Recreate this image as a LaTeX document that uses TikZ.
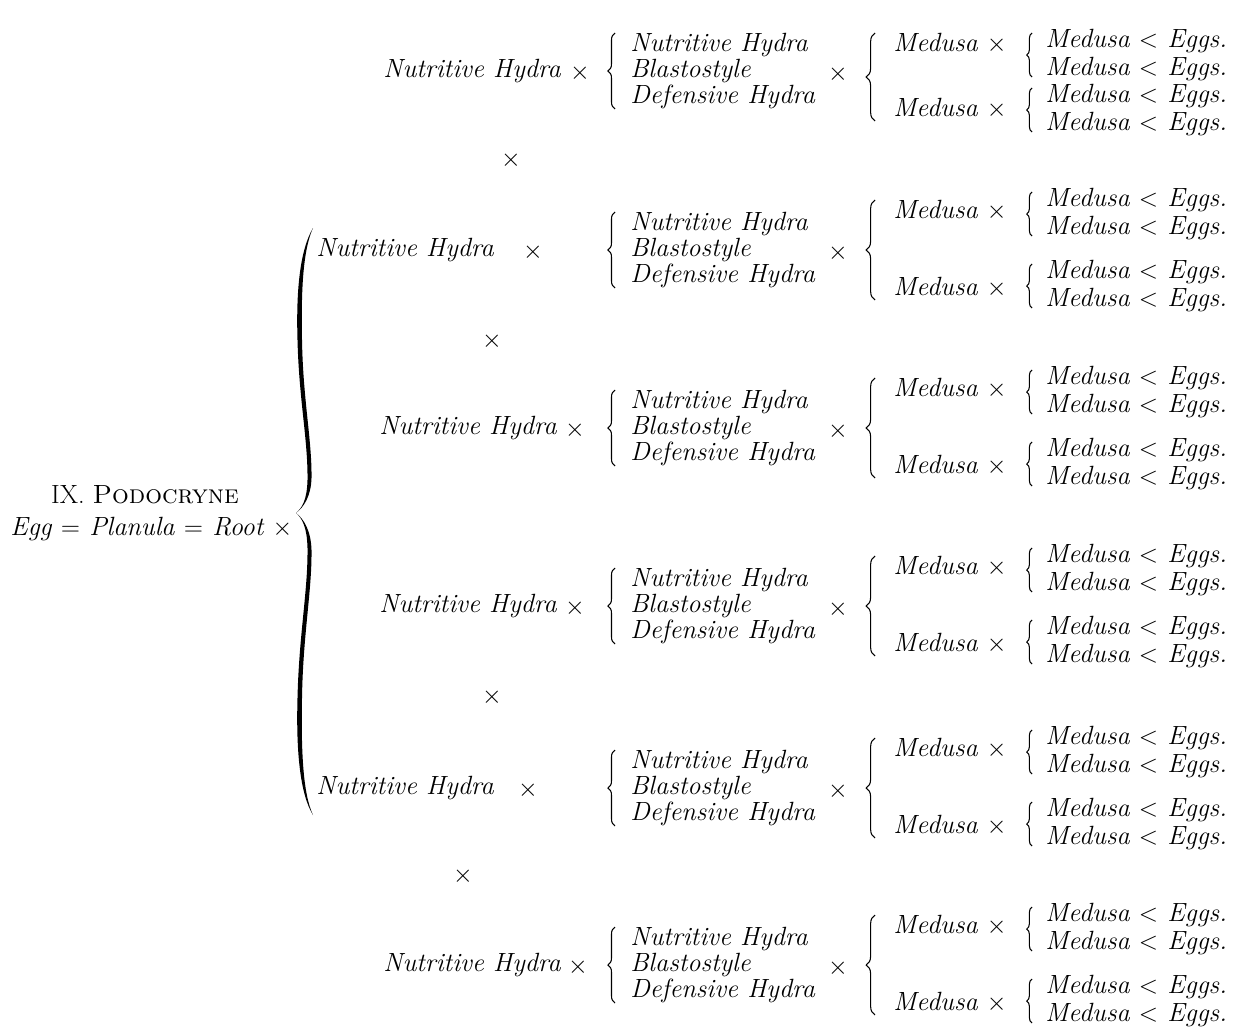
\documentclass[tikz,border=0pt]{standalone}
\usepackage{tikz}
\usetikzlibrary{decorations.pathreplacing}

\begin{document}
\begin{tikzpicture}[x=0.02cm, y=-0.02cm,
        txt/.style={anchor=west, inner sep=0pt, font=\fontsize{15}{15}\selectfont\itshape, text height=10pt, text depth=3pt},
        lst/.style={anchor=west, inner sep=0pt, align=left, font=\fontsize{15}{14.7}\selectfont\itshape},
        cross/.style={inner sep=0pt, font=\fontsize{15}{15}\selectfont},
        brc/.style={decorate, decoration={brace, amplitude=#1}, line width=0.6pt},
        brc/.default=4pt]
        \useasboundingbox (0,0) rectangle (1246,1031);
        % root of the tree
        \node[cross] (title) at (145,495) {IX. \textsc{Podocryne}};
        \node[txt] (root) at (10,529) {Egg $=$ Planula $=$ Root $\times$};
        % the big brace, two tapered halves
        \fill (313,228) .. controls (300,250) and (296,290) .. (297.5,340) .. controls (299,400) and (308,440) .. (307.5,480)
          .. controls (307,500) and (302,508) .. (296,513) .. controls (304,507) and (311,496) .. (311.5,478)
          .. controls (312,440) and (303,400) .. (302,340) .. controls (301,290) and (303,250) .. (313,228) -- cycle;
        \fill (313,815) .. controls (300,794) and (296,751) .. (297.5,698) .. controls (299,634) and (308,591) .. (307.5,548)
          .. controls (307,527) and (302,518) .. (296,513) .. controls (304,519) and (311,531) .. (311.5,550)
          .. controls (312,591) and (303,634) .. (302,698) .. controls (301,751) and (303,794) .. (313,815) -- cycle;
        % one row per hydra (\m, \t, \b: the first row sits closer to the top)
        \foreach \i/\y/\nx/\cx/\m/\t/\b in {1/71/383/580/12/20/3, 2/250/316/533/0/0/0, 3/428/379/575/0/0/0,
                                            4/606/379/575/0/0/0, 5/788/316/528/0/0/0, 6/965/383/578/0/0/0} {
          \node[txt] (nh\i) at (\nx,\y) {Nutritive Hydra};
          \node[cross] (nx\i) at (\cx,\y+2) {$\times$};
          \draw[brc] (615,\y+38) -- (615,\y-38);
          \node[lst] (ls\i) at (630,\y) {Nutritive Hydra\\Blastostyle\\Defensive Hydra};
          \node[cross] (mx\i) at (838,\y+3) {$\times$};
          \draw[brc=5pt] (875,\y+50) -- (875,\y-50+\m);
          \node[txt] (ma\i) at (893,\y-38+\m) {Medusa $\times$};
          \node[txt] (mb\i) at (893,\y+39) {Medusa $\times$};
          \draw[brc=3pt] (1032,\y-14+\t) -- (1032,\y-58+\t);
          \draw[brc=3pt] (1032,\y+58+\b) -- (1032,\y+14+\b);
          \node[txt] (ea\i) at (1045,\y-50+\t) {Medusa $<$ Eggs.};
          \node[txt] (eb\i) at (1045,\y-22+\t) {Medusa $<$ Eggs.};
          \node[txt] (ec\i) at (1045,\y+22+\b) {Medusa $<$ Eggs.};
          \node[txt] (ed\i) at (1045,\y+50+\b) {Medusa $<$ Eggs.};
        }
        % crosses between the rows
        \node[cross] (k1) at (511,160) {$\times$};
        \node[cross] (k2) at (492,341) {$\times$};
        \node[cross] (k3) at (492,697) {$\times$};
        \node[cross] (k4) at (463,876) {$\times$};
      \end{tikzpicture}
\end{document}
